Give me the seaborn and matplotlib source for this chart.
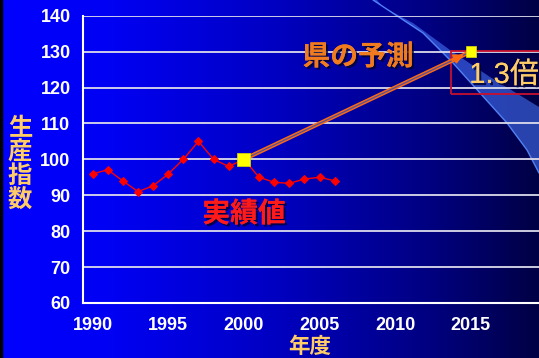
import numpy as np
import pandas as pd
import matplotlib
matplotlib.use("Agg")
import matplotlib.pyplot as plt
import seaborn as sns
from matplotlib.colors import LinearSegmentedColormap
from matplotlib.patches import Rectangle, Polygon
import matplotlib.patheffects as pe

# ---- data ----
years = list(range(1990, 2007))
index_values = [95.9, 97.1, 94.0, 91.0, 92.6, 95.9, 100.0, 105.0, 100.0, 98.0,
                100.0, 95.0, 93.6, 93.3, 94.5, 95.0, 94.0]
forecast_years = [2000, 2015]
forecast_values = [100, 130]
x_tick_labels = [1990, 1995, 2000, 2005, 2010, 2015]
y_ticks = [60, 70, 80, 90, 100, 110, 120, 130, 140]

sns.set_style("white")
NUM = ['Liberation Sans', 'Noto Sans CJK JP', 'DejaVu Sans']
CJK = ['Noto Sans CJK JP', 'DejaVu Sans']
plt.rcParams['font.family'] = NUM

W, H = 539, 358
fig = plt.figure(figsize=(W / 100, H / 100), dpi=100)

# background gradient
bg = fig.add_axes([0, 0, 1, 1])
cmap = LinearSegmentedColormap.from_list(
    "bg", [(0, "#0000FF"), (0.2, "#0000F4"), (0.5, "#0000C4"),
           (0.8, "#000080"), (1.0, "#000044")])
grad = np.linspace(0, 1, 256).reshape(1, -1)
bg.imshow(grad, aspect="auto", cmap=cmap, extent=[0, 1, 0, 1])
bg.axvline(0.002, color="black", lw=2.5)
bg.set_xlim(0, 1); bg.set_ylim(0, 1)
bg.axis("off")

# decorative swoosh (pixel coords -> figure fraction)
outer = [(373, 0), (423, 33), (453, 63), (480, 93), (507, 123), (527, 150), (539, 173)]
inner = [(539, 107), (490, 77), (450, 50), (413, 23), (383, 7), (377, 0)]
poly = [(x / W, 1 - y / H) for x, y in outer + inner]
bg.add_patch(Polygon(poly, closed=True, facecolor="#4A7CFF", alpha=0.55,
                     edgecolor="none", transform=bg.transAxes))
ox = [x / W for x, y in outer]; oy = [1 - y / H for x, y in outer]
bg.plot(ox, oy, color="#5A8CFF", lw=1.0, alpha=0.9, transform=bg.transAxes)

# main axes
ax = fig.add_axes([83 / W, (H - 302.9) / H, (W - 83) / W, (302.9 - 15.7) / H])
ax.patch.set_alpha(0)
ax.set_xlim(1989.37, 2019.47)
ax.set_ylim(60, 140)

ax.set_yticks(y_ticks)
ax.yaxis.grid(True, color="#DCDCEC", lw=1.3)
ax.set_axisbelow(True)
for s in ["top", "right"]:
    ax.spines[s].set_visible(False)
for s in ["left", "bottom"]:
    ax.spines[s].set_color("white")
    ax.spines[s].set_linewidth(1.5)

ax.set_xticks(x_tick_labels)
ax.set_xticklabels([str(v) for v in x_tick_labels])
ax.set_xticks([y - 0.5 for y in x_tick_labels] + [2019.5], minor=True)
ax.tick_params(axis="x", which="major", length=0, pad=10.5, colors="white",
               labelsize=13)
ax.tick_params(axis="x", which="minor", direction="in", length=4, width=1.2,
               color="white")
ax.tick_params(axis="y", direction="in", length=4, width=1.2, color="white",
               labelcolor="white", labelsize=13, pad=9)
for lab in ax.get_xticklabels() + ax.get_yticklabels():
    lab.set_fontweight("bold")

# actual series
df = pd.DataFrame({"year": years, "value": index_values})
sns.lineplot(data=df, x="year", y="value", ax=ax, color="#FF0000", lw=1.0,
             marker="D", markersize=4.5, markeredgecolor="#FF0000", zorder=4)
ax.set_xlabel(""); ax.set_ylabel("")

# forecast connector (double orange line with arrow)
ax.plot(forecast_years, forecast_values, color="#FF6A10", lw=3.0, zorder=5,
        solid_capstyle="butt")
ax.plot(forecast_years, forecast_values, color="#5050A0", lw=0.9, zorder=5)
ax.annotate("", xy=(forecast_years[1] - 0.3, forecast_values[1] - 0.5),
            xytext=(forecast_years[1] - 1.4, forecast_values[1] - 2.7),
            arrowprops=dict(arrowstyle="-|>", color="#FF6A10", lw=1.5,
                            mutation_scale=14), zorder=6)

fdf = pd.DataFrame({"year": forecast_years, "value": forecast_values})
sns.scatterplot(data=fdf, x="year", y="value", ax=ax, marker="s", s=[85, 60],
                color="#FFFF00", edgecolor="#E0E000", linewidth=0.5, zorder=7,
                legend=False)
ax.set_xlabel(""); ax.set_ylabel("")

# red box
ax.add_patch(Rectangle((2013.66, 118.3), 8, 11.9, fill=False,
                       edgecolor="#C8102E", lw=1.3, clip_on=False, zorder=3))

shadow = [pe.withSimplePatchShadow(offset=(1.5, -1.5), shadow_rgbFace="#000030",
                                   alpha=0.8), pe.Normal()]

def ftext(px, py, s, **kw):
    return fig.text(px / W, 1 - py / H, s, **kw)

ftext(504, 75, "1.3倍", color="#FFCC66", fontsize=21, ha="center",
      va="center", family=NUM, path_effects=shadow)
ftext(358, 57, "県の予測", color="#F07A1E", fontsize=20, fontweight="bold",
      ha="center", va="center", family=CJK, path_effects=shadow)
ftext(244, 214, "実績値", color="#FF1A1A", fontsize=20, fontweight="bold",
      ha="center", va="center", family=CJK, path_effects=shadow)
ftext(20, 164, "生\n産\n指\n数", color="#FFCC66", fontsize=17.5,
      fontweight="bold", ha="center", va="center", linespacing=0.98,
      family=CJK)
ftext(310, 346.5, "年度", color="#FFCC66", fontsize=15.5, fontweight="bold",
      ha="center", va="center", family=CJK)

fig.savefig("out.png", dpi=100)
